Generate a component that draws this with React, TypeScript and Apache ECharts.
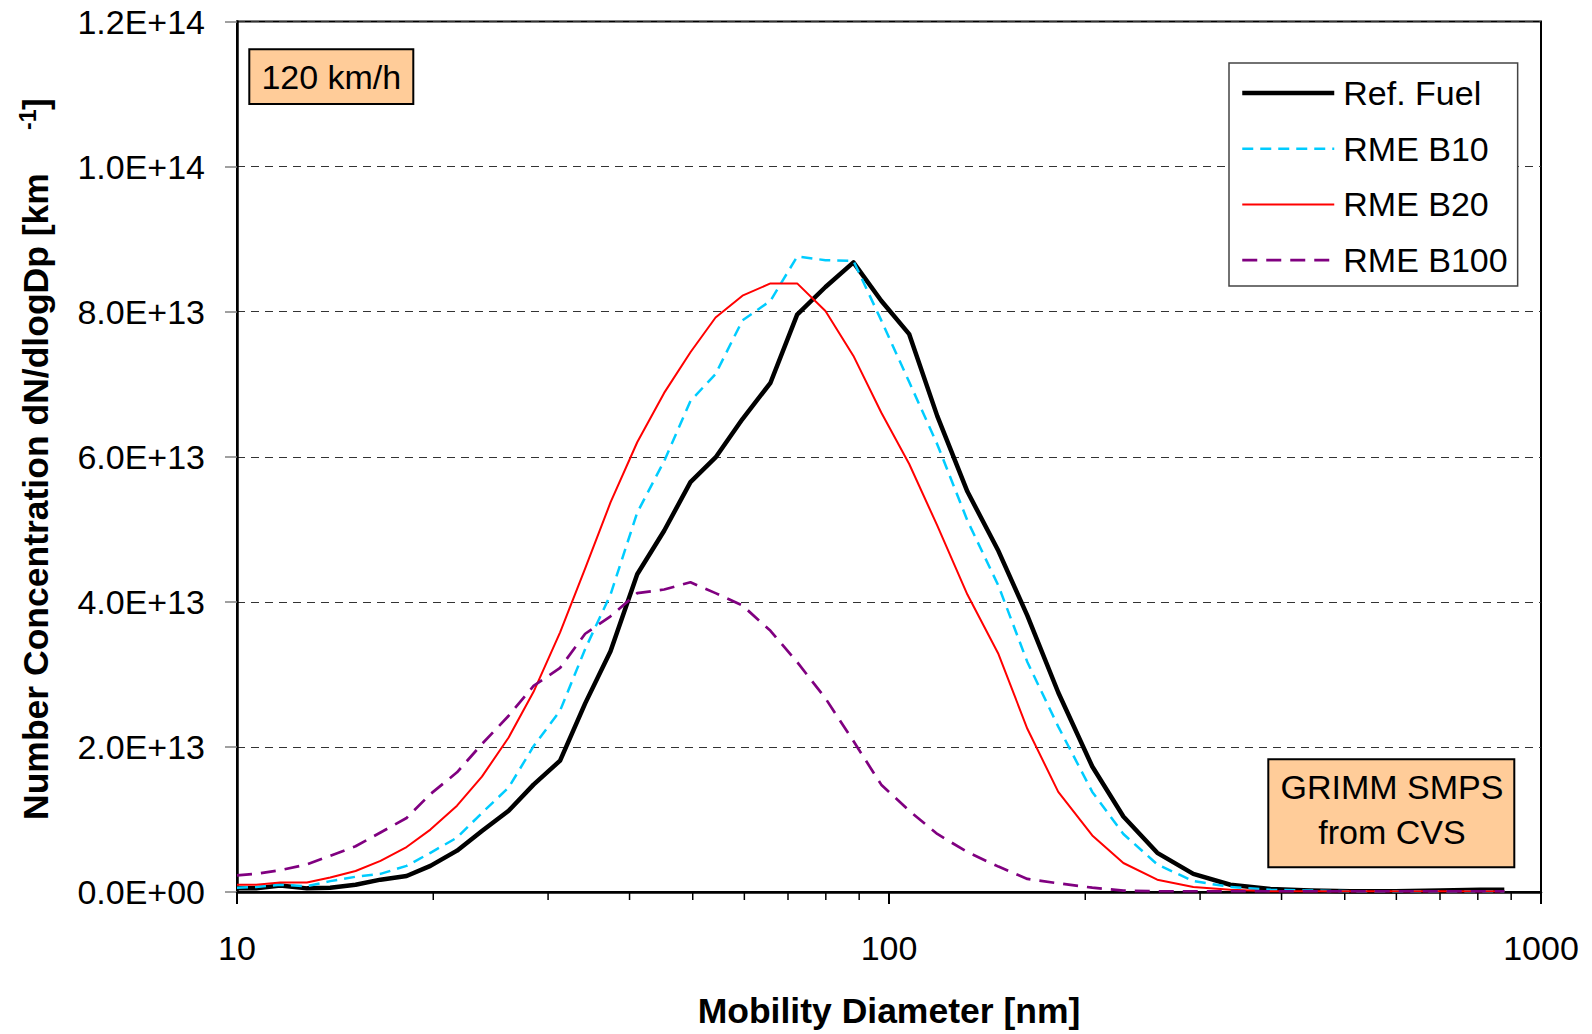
import React, { useEffect, useRef } from "react";
import * as echarts from "echarts";

const FONT = "'Liberation Sans', Arial, sans-serif";
const SCALE = 1e13;

// Mobility diameters [nm]
const diameters = [
  10.0, 10.7, 11.65, 12.8, 13.9, 15.2, 16.6, 18.2, 19.8, 21.75, 23.75, 26.1, 28.5, 31.3, 34.2,
  37.4, 41.1, 45.2, 49.6, 54.2, 59.6, 65.8, 72.3, 79.9, 88.2, 97.3, 107.4, 118.6, 131.9, 147.2,
  163, 181.8, 205, 228.8, 257.9, 292.9, 333.8, 384.5, 442.9, 510, 597.6, 700.6, 807, 878.5,
];

// dN/dlogDp in units of 1E+13 km-1
const refFuel = [
  0.05, 0.05, 0.09, 0.05, 0.06, 0.1, 0.17, 0.22, 0.36, 0.57, 0.84, 1.12, 1.48, 1.81, 2.6,
  3.32, 4.38, 4.98, 5.65, 5.99, 6.52, 7.02, 7.96, 8.34, 8.68, 8.15, 7.69, 6.56, 5.52, 4.7,
  3.81, 2.75, 1.73, 1.04, 0.54, 0.25, 0.1, 0.04, 0.02, 0.01, 0.01, 0.02, 0.03, 0.03,
];
const rmeB10 = [
  0.06, 0.07, 0.1, 0.08, 0.15, 0.21, 0.25, 0.36, 0.54, 0.75, 1.09, 1.44, 2.01, 2.5, 3.35,
  4.1, 5.23, 5.94, 6.77, 7.14, 7.88, 8.15, 8.76, 8.71, 8.7, 7.88, 7.03, 6.17, 5.12, 4.22,
  3.17, 2.28, 1.38, 0.8, 0.38, 0.15, 0.07, 0.03, 0.02, 0.01, 0.01, 0.01, 0.01, 0.01,
];
const rmeB20 = [
  0.1, 0.1, 0.13, 0.13, 0.2, 0.29, 0.43, 0.62, 0.86, 1.19, 1.59, 2.13, 2.76, 3.58, 4.46,
  5.37, 6.2, 6.88, 7.44, 7.92, 8.22, 8.39, 8.39, 8.01, 7.39, 6.61, 5.9, 5.05, 4.1, 3.28,
  2.25, 1.38, 0.78, 0.4, 0.17, 0.07, 0.03, 0.01, 0.01, 0.01, 0.01, 0.01, 0.01, 0.01,
];
const rmeB100 = [
  0.23, 0.25, 0.3, 0.38, 0.5, 0.63, 0.82, 1.02, 1.35, 1.65, 2.04, 2.43, 2.84, 3.09, 3.56,
  3.8, 4.12, 4.17, 4.27, 4.12, 3.95, 3.6, 3.17, 2.67, 2.08, 1.48, 1.12, 0.8, 0.55, 0.35,
  0.18, 0.12, 0.06, 0.02, 0.01, 0.01, 0.01, 0.01, 0.01, 0.01, 0.01, 0.01, 0.01, 0.01,
];

const seriesNames = ["Ref. Fuel", "RME B10", "RME B20", "RME B100"];
const seriesColors = ["#000000", "#00CCFF", "#FF0000", "#800080"];
const seriesWidths = [4.5, 2.5, 2, 2.7];
const seriesDash: any[] = ["solid", [11, 7], "solid", [15, 9]];
const minorTickValues = [20, 30, 40, 50, 60, 70, 80, 90, 200, 300, 400, 500, 600, 700, 800, 900];

const pairs = (vals: number[]) => diameters.map((d, i) => [d, vals[i] * SCALE]);

const fmtSci = (v: number) => {
  if (v === 0) return "0.0E+00";
  const e = Math.floor(Math.log10(v) + 1e-9);
  const m = v / Math.pow(10, e);
  return m.toFixed(1) + "E+" + String(e).padStart(2, "0");
};

export default function App() {
  const ref = useRef<HTMLDivElement>(null);
  useEffect(() => {
    if (!ref.current) return;
    const chart = echarts.init(ref.current, undefined, { renderer: "svg" });
    const allVals = [refFuel, rmeB10, rmeB20, rmeB100];
    const lineSeries = seriesNames.map((name, i) => ({
      name,
      type: "line",
      data: pairs(allVals[i]),
      symbol: "none",
      showSymbol: false,
      smooth: false,
      lineStyle: { color: seriesColors[i], width: seriesWidths[i], type: seriesDash[i], cap: "butt", join: "round" },
      itemStyle: { color: seriesColors[i] },
      emphasis: { disabled: true },
    }));
    chart.setOption({
      animation: false,
      backgroundColor: "#fff",
      textStyle: { fontFamily: FONT },
      grid: {
        left: 237,
        top: 21.5,
        width: 1304,
        height: 872.5,
        show: true,
        borderColor: "#000",
        borderWidth: 2,
        backgroundColor: "transparent",
      },
      legend: {
        data: seriesNames.map((name, i) => ({
          name,
          itemStyle: { opacity: 0, color: "transparent", borderWidth: 0 },
          lineStyle: { width: seriesWidths[i], color: seriesColors[i], type: seriesDash[i], opacity: 1 },
        })),
        orient: "vertical",
        left: 1229,
        top: 63,
        itemWidth: 92,
        itemHeight: 34,
        itemGap: 21.7,
        backgroundColor: "#fff",
        borderColor: "#444",
        borderWidth: 1.5,
        borderRadius: 0,
        padding: [13, 10, 9, 11],
        selectedMode: false,
        textStyle: { fontSize: 34, fontFamily: FONT, color: "#000", lineHeight: 34, padding: [0, 0, 0, 4] },
      },
      xAxis: {
        type: "log",
        logBase: 10,
        min: 10,
        max: 1000,
        name: "Mobility Diameter [nm]",
        nameLocation: "middle",
        nameGap: 119,
        nameTextStyle: { fontSize: 35.5, fontWeight: "bold", fontFamily: FONT, color: "#000", verticalAlign: "middle" },
        axisLine: { show: true, lineStyle: { color: "#000", width: 2.5 } },
        axisTick: { show: true, inside: false, length: 12, lineStyle: { color: "#000", width: 2 } },
        axisLabel: { fontSize: 34, margin: 39, color: "#000", fontFamily: FONT, formatter: (v: number) => String(Math.round(v)) },
        splitLine: { show: false },
        minorTick: { show: false },
      },
      yAxis: {
        type: "value",
        min: 0,
        max: 1.2e14,
        interval: 2e13,
        axisLine: { show: true, lineStyle: { color: "#000", width: 2.5 } },
        axisTick: { show: true, inside: false, length: 12, lineStyle: { color: "#808080", width: 1.5 } },
        axisLabel: { fontSize: 34, margin: 32, color: "#000", fontFamily: FONT, formatter: fmtSci },
        splitLine: { show: true, lineStyle: { type: [8, 6], color: "#333", width: 1.2 } },
      },
      series: [
        ...lineSeries,
        {
          name: "minorTicks",
          type: "custom",
          clip: false,
          silent: true,
          data: minorTickValues.map((v) => [v, 0]),
          encode: { x: 0, y: 1 },
          renderItem: (params: any, api: any) => {
            const p = api.coord([api.value(0), 0]);
            return {
              type: "line",
              shape: { x1: p[0], y1: p[1], x2: p[0], y2: p[1] + 8 },
              style: { stroke: "#000", lineWidth: 1.5 },
            };
          },
        },
      ],
      graphic: [
        {
          type: "rect",
          shape: { x: 249.3, y: 49.3, width: 164, height: 54.7 },
          style: { fill: "#FFCC99", stroke: "#000", lineWidth: 2 },
          z: 100,
        },
        {
          type: "text",
          x: 331.3,
          y: 77,
          style: { text: "120 km/h", fontSize: 34, fontFamily: FONT, fill: "#000", textAlign: "center", textVerticalAlign: "middle" },
          z: 101,
        },
        {
          type: "rect",
          shape: { x: 1268.3, y: 759.3, width: 246, height: 108 },
          style: { fill: "#FFCC99", stroke: "#000", lineWidth: 2 },
          z: 100,
        },
        {
          type: "text",
          x: 1392,
          y: 787,
          style: { text: "GRIMM SMPS", fontSize: 34, fontFamily: FONT, fill: "#000", textAlign: "center", textVerticalAlign: "middle" },
          z: 101,
        },
        {
          type: "text",
          x: 1392,
          y: 832,
          style: { text: "from CVS", fontSize: 34, fontFamily: FONT, fill: "#000", textAlign: "center", textVerticalAlign: "middle" },
          z: 101,
        },
        {
          type: "group",
          x: 36,
          y: 820,
          rotation: Math.PI / 2,
          children: [
            {
              type: "text",
              x: 0,
              y: 0,
              style: {
                text: "Number Concentration dN/dlogDp [km",
                fontSize: 35.5,
                fontWeight: "bold",
                fontFamily: FONT,
                fill: "#000",
                textAlign: "left",
                textVerticalAlign: "middle",
              },
            },
            {
              type: "text",
              x: 690,
              y: -8,
              style: {
                text: "-1",
                fontSize: 23,
                fontWeight: "bold",
                fontFamily: FONT,
                fill: "#000",
                textAlign: "left",
                textVerticalAlign: "middle",
              },
            },
            {
              type: "text",
              x: 710,
              y: 0,
              style: {
                text: "]",
                fontSize: 35.5,
                fontWeight: "bold",
                fontFamily: FONT,
                fill: "#000",
                textAlign: "left",
                textVerticalAlign: "middle",
              },
            },
          ],
        },
      ],
    });
    return () => chart.dispose();
  }, []);
  return (
    <div
      ref={ref}
      style={{ position: "fixed", left: 0, top: 0, width: 1592, height: 1034, background: "#fff" }}
    />
  );
}
